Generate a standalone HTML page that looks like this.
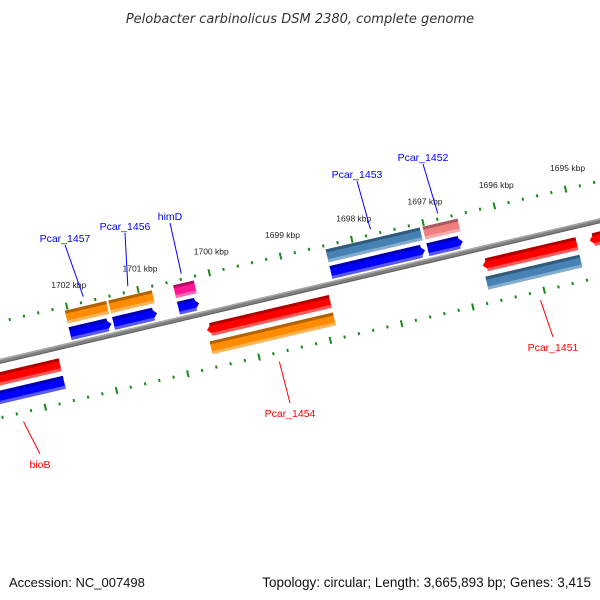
<!DOCTYPE html>
<html><head><meta charset="utf-8"><style>
body{margin:0;background:#fff}
svg{display:block;font-family:"Liberation Sans","DejaVu Sans",sans-serif}
</style></head><body>
<svg id="map" width="600" height="600" viewBox="0 0 600 600">
<text x="300" y="23" text-anchor="middle" font-size="13" font-style="italic" fill="#333" style="font-family:'DejaVu Sans',sans-serif">Pelobacter carbinolicus DSM 2380, complete genome</text>
<text x="9" y="587" font-size="13" fill="#111">Accession: NC_007498</text>
<text x="591" y="587" text-anchor="end" font-size="13.5" fill="#111">Topology: circular; Length: 3,665,893 bp; Genes: 3,415</text>
<g id="rot"></g>
<g id="ann"></g>
</svg>
<script>
const genes = ["bioB","Pcar_1457","Pcar_1456","himD","Pcar_1454","Pcar_1453","Pcar_1452","Pcar_1451","next-gene"];
const geneStart = [1703.6,1702.04,1701.43,1700.52,1700.21,1698.38,1697.02,1696.34,1694.84];
const geneEnd   = [1702.27,1701.46,1700.82,1700.23,1698.48,1697.06,1696.53,1695.02,1693.8];
const geneStrand = [-1,1,1,1,-1,1,1,-1,-1];
const geneCategory = ["#0000ff","#ff8c00","#ff8c00","#ff1493","#ff8c00","#4682b4","#f08080","#4682b4","none"];
const tickLabels = [1702,1701,1700,1699,1698,1697,1696,1695];
const showLabel = [true,true,true,true,true,true,true,true,false];
const labelPos = [[40,464],[65,238],[125,226],[170,216],[290,413],[357,174],[423,157],[553,347],[0,0]];

const NS="http://www.w3.org/2000/svg";
const CX=300, CY=291, TH=13.2*Math.PI/180, C=Math.cos(TH), S=Math.sin(TH);
const REF=1698.85, PX=73.2;
function u(k){return (REF-k)*PX;}
function scr(uu,v){return [CX+uu*C+v*S, CY-uu*S+v*C];}
const rot=document.getElementById('rot'), ann=document.getElementById('ann');
rot.setAttribute('transform',`translate(${CX},${CY}) rotate(-13.2)`);
function mk(tag,attrs,parent){const e=document.createElementNS(NS,tag);for(const k in attrs)e.setAttribute(k,attrs[k]);parent.appendChild(e);return e;}
function shade(hex,f){let r=parseInt(hex.substr(1,2),16),g=parseInt(hex.substr(3,2),16),b=parseInt(hex.substr(5,2),16);
 if(f<0){r*=1+f;g*=1+f;b*=1+f;}else{r+=(255-r)*f;g+=(255-g)*f;b+=(255-b)*f;}
 return `rgb(${r|0},${g|0},${b|0})`;}
let bb=mk('rect',{x:-500,y:-2.5,width:1000,height:5,fill:'#808080'},rot);


mk('rect',{x:-500,y:-2.5,width:1000,height:1.5,fill:'#a8a8a8'},rot);
mk('rect',{x:-500,y:1.5,width:1000,height:1,fill:'#606060'},rot);
function ticks(v,offset,name){
 const g=mk('g',{},rot);
 
 
 for(let i=-40;i<=40;i++){
  const k=1699+offset+i*0.2;
  const major=Math.abs(Math.round(i/5)*5-i)<1e-6;
  const x=u(k);
  const h=major?7:3;
  mk('line',{x1:x,y1:v-h/2,x2:x,y2:v+h/2,stroke:'#1a8a1a','stroke-width':2},g);
 }
}
ticks(-38.5,0,'top-ticks');
ticks(55,0.6,'bottom-ticks');
tickLabels.forEach(k=>{
 const [x,y]=scr(u(k),-38.5);
 const t=mk('text',{x:x+2,y:y-18,'text-anchor':'middle','font-size':8.5,fill:'#222'},ann);
 t.textContent=k+' kbp';
 
 
});
function block(x1,x2,v,color,dir,parent){
 if(color==='none')return;
 const h=13, y0=v-h/2, a=6;
 const L=Math.min(x1,x2), R=Math.max(x1,x2);
 let pts;
 if(dir>0) pts=[[L,y0],[R-a,y0],[R,v],[R-a,y0+h],[L,y0+h]];
 else if(dir<0) pts=[[L+a,y0],[R,y0],[R,y0+h],[L+a,y0+h],[L,v]];
 else pts=[[L,y0],[R,y0],[R,y0+h],[L,y0+h]];
 mk('polygon',{points:pts.map(p=>p.join(',')).join(' '),fill:color},parent);
 mk('rect',{x:L+(dir<0?a*0.6:0),y:y0,width:R-L-(dir!==0?a*0.6:0),height:3,fill:shade(color,-0.3)},parent);
 mk('rect',{x:L+(dir<0?a*0.6:0),y:y0+h-3,width:R-L-(dir!==0?a*0.6:0),height:3,fill:shade(color,0.35)},parent);
}
genes.forEach((name,i)=>{
 const g=mk('g',{},rot);
 
 
 const x1=u(geneStart[i]), x2=u(geneEnd[i]);
 if(geneStrand[i]>0){
  block(x1,x2,-28,geneCategory[i],0,g);
  block(x1,x2,-11,'#0000ff',1,g);
 }else{
  block(x1,x2,17,'#ff0000',-1,g);
  block(x1,x2,35,geneCategory[i],0,g);
 }
 if(showLabel[i]){
  const mid=(x1+x2)/2;
  const [tx,ty]=scr(mid, geneStrand[i]>0?-44:64);
  const [lx,ly]=labelPos[i];
  const col=geneStrand[i]>0?'#0000ff':'#ff0000';
  const ly2=geneStrand[i]>0?ly+7:ly-10;
  mk('line',{x1:lx,y1:ly2,x2:tx,y2:ty,stroke:col,'stroke-width':1},ann);
  const t=mk('text',{x:lx,y:ly+4,'text-anchor':'middle','font-size':10.5,fill:col},ann);
  t.textContent=name;
  
  
 }
});
</script>
</body></html>
